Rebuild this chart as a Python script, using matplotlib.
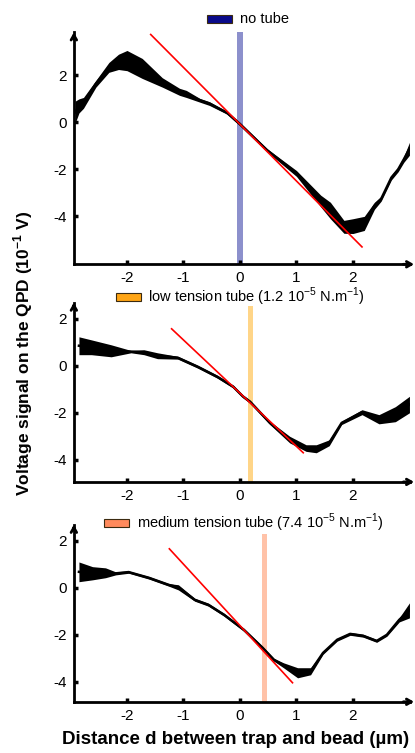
import matplotlib
matplotlib.use("Agg")
import matplotlib.pyplot as plt
from matplotlib.patches import Rectangle
import numpy as np

plt.rcParams["font.family"] = ["Liberation Sans", "DejaVu Sans"]
plt.rcParams["axes.unicode_minus"] = False
plt.rcParams["mathtext.fontset"] = "custom"
plt.rcParams["mathtext.rm"] = "Liberation Sans"
plt.rcParams["mathtext.bf"] = "Liberation Sans:bold"

# ---- data: distance (um), lower / upper envelope (1e-1 V)
p1_x = [-2.92, -2.85, -2.77, -2.55, -2.32, -2.15, -2.0, -1.73, -1.375, -1.07, -0.95, -0.71,
        -0.54, -0.23, 0.0, 0.48, 1.0, 1.43, 1.6, 1.84, 2.0, 2.2, 2.38, 2.5, 2.68, 2.8,
        2.9, 3.0]
p1_lo = [-0.05, 0.4, 0.6, 1.5, 2.13, 2.25, 2.2, 1.87, 1.5, 1.15, 1.06, 0.86, 0.72, 0.35,
         -0.15, -1.25, -2.3, -3.6, -4.1, -4.72, -4.73, -4.6, -3.7, -3.35, -2.45, -2.1,
         -1.7, -1.4]
p1_hi = [0.9, 1.0, 1.06, 1.79, 2.55, 2.9, 3.06, 2.72, 1.9, 1.45, 1.36, 1.02, 0.88, 0.47,
         0.0, -1.12, -2.05, -3.1, -3.4, -4.17, -4.1, -4.0, -3.4, -3.15, -2.25, -1.9,
         -1.45, -0.85]

p2_x = [-2.85, -2.63, -2.28, -1.93, -1.7, -1.46, -1.1, -0.75, -0.4, -0.12, 0.05, 0.18, 0.53,
        0.88, 1.17, 1.35, 1.58, 1.8, 2.16, 2.46, 2.75, 3.0]
p2_lo = [0.47, 0.47, 0.38, 0.55, 0.47, 0.3, 0.28, -0.1, -0.53, -0.95, -1.36, -1.6, -2.5,
         -3.28, -3.64, -3.7, -3.4, -2.5, -2.08, -2.47, -2.38, -2.0]
p2_hi = [1.23, 1.1, 0.89, 0.65, 0.68, 0.55, 0.4, 0.02, -0.41, -0.83, -1.24, -1.47, -2.36,
         -3.0, -3.36, -3.36, -3.15, -2.36, -1.87, -2.08, -1.74, -1.3]

p3_x = [-2.85, -2.61, -2.38, -2.2, -1.97, -1.61, -1.26, -1.09, -0.8, -0.56, -0.28, 0.07, 0.4,
        0.6, 0.77, 1.02, 1.25, 1.47, 1.72, 1.95, 2.18, 2.42, 2.6, 2.82, 3.0]
p3_lo = [0.26, 0.34, 0.43, 0.55, 0.62, 0.37, 0.07, -0.09, -0.57, -0.78, -1.21, -1.85, -2.61,
         -3.12, -3.4, -3.83, -3.7, -2.83, -2.27, -2.02, -2.1, -2.32, -2.06, -1.45, -1.28]
p3_hi = [1.1, 0.9, 0.85, 0.68, 0.72, 0.48, 0.18, 0.13, -0.45, -0.66, -1.09, -1.73, -2.49,
         -3.0, -3.19, -3.4, -3.4, -2.71, -2.15, -1.9, -1.98, -2.2, -1.94, -1.27, -0.64]

# linear fits (red) : endpoints
fit1_x, fit1_y = [-1.58, 2.16], [3.74, -5.3]
fit2_x, fit2_y = [-1.21, 1.12], [1.57, -3.7]
fit3_x, fit3_y = [-1.25, 0.93], [1.66, -4.04]

# tube positions
tube_pos = [0.0, 0.18, 0.43]
tube_labels = ["no tube",
               r"low tension tube (1.2 10$^{-5}$ N.m$^{-1}$)",
               r"medium tension tube (7.4 10$^{-5}$ N.m$^{-1}$)"]
xticks = [-2, -1, 0, 1, 2]
yticks = [2, 0, -2, -4]

panels = [
    dict(x=p1_x, lo=p1_lo, hi=p1_hi, fx=fit1_x, fy=fit1_y, ylim=(-6.04, 3.83),
         pos=[0.178, 0.649, 0.81, 0.308], band="#8c90cc", bw=0.10, bt=1.0,
         patch="#0a0a8a", leg=(207, 19, 240)),
    dict(x=p2_x, lo=p2_lo, hi=p2_hi, fx=fit2_x, fy=fit2_y, ylim=(-4.94, 2.68),
         pos=[0.178, 0.360, 0.81, 0.238], band="#ffd588", bw=0.09, bt=0.98,
         patch="#ffa515", leg=(116, 297, 148)),
    dict(x=p3_x, lo=p3_lo, hi=p3_hi, fx=fit3_x, fy=fit3_y, ylim=(-4.85, 2.68),
         pos=[0.178, 0.068, 0.81, 0.235], band="#ffc2a8", bw=0.09, bt=0.95,
         patch="#ff8a5c", leg=(104, 523, 137)),
]

W, H = 415, 753
fig = plt.figure(figsize=(W / 100, H / 100), dpi=100)

for i, p in enumerate(panels):
    ax = fig.add_axes(p["pos"])
    ax.set_xlim(-2.94, 3.01)
    ax.set_ylim(*p["ylim"])
    t = tube_pos[i]
    ax.axvspan(t - p["bw"] / 2, t + p["bw"] / 2, ymax=p["bt"], color=p["band"], lw=0, zorder=1)
    mid = (np.array(p["lo"]) + np.array(p["hi"])) / 2
    ax.fill_between(p["x"], p["lo"], p["hi"], color="black", lw=0, zorder=2)
    ax.plot(p["x"], mid, color="black", lw=1.8, zorder=2)
    ax.plot(p["fx"], p["fy"], color="red", lw=1.2, zorder=3)

    ax.spines[["top", "right"]].set_visible(False)
    ax.spines[["left", "bottom"]].set_linewidth(2)
    # arrow heads at the axis ends
    ax.annotate("", xy=(0, 1.0), xytext=(0, 0.97), xycoords="axes fraction",
                arrowprops=dict(arrowstyle="->,head_length=0.35,head_width=0.2", lw=2,
                                color="black", shrinkA=0, shrinkB=0), annotation_clip=False)
    ax.annotate("", xy=(1.012, 0), xytext=(0.98, 0), xycoords="axes fraction",
                arrowprops=dict(arrowstyle="->,head_length=0.35,head_width=0.2", lw=2,
                                color="black", shrinkA=0, shrinkB=0), annotation_clip=False)
    ax.set_xticks(xticks)
    ax.set_yticks(yticks)
    ax.tick_params(direction="in", length=3, width=2.5, labelsize=11, pad=5)
    ax.patch.set_alpha(0)

    lx, ly, tx = p["leg"]
    fig.add_artist(Rectangle((lx / W, 1 - (ly + 4) / H), 25 / W, 8 / H,
                             transform=fig.transFigure, facecolor=p["patch"],
                             edgecolor="#3a2a10", lw=0.8))
    fig.text(tx / W, 1 - ly / H, tube_labels[i], fontsize=10.5, va="center", ha="left")

fig.text(0.055, 0.531, r"Voltage signal on the QPD (10$^{\mathbf{-1}}$ V)",
         rotation=90, fontsize=12.5, fontweight="bold", ha="center", va="center")
fig.text(0.568, 0.018, "Distance d between trap and bead (µm)",
         fontsize=13.5, fontweight="bold", ha="center", va="center")

fig.savefig("out.png", dpi=100)
